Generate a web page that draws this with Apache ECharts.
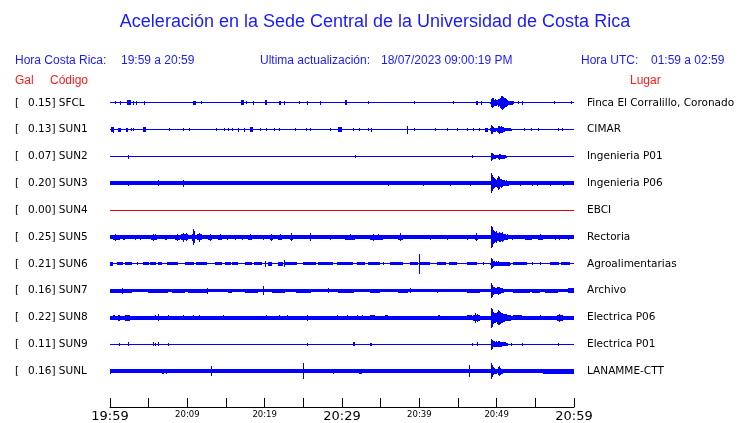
<!DOCTYPE html>
<html><head><meta charset="utf-8">
<script src="https://cdn.jsdelivr.net/npm/echarts@6/dist/echarts.min.js"></script>
<style>html,body{margin:0;padding:0;background:#fff}#c{width:740px;height:423px}</style>
</head><body><div id="c"></div>
<script>
// ---- data (time in minutes after 19:59, amplitudes = half trace width in trace units) ----
const codes  = ['SFCL','SUN1','SUN2','SUN3','SUN4','SUN5','SUN6','SUN7','SUN8','SUN9','SUNL'];
const gal    = ['0.15','0.13','0.07','0.20','0.00','0.25','0.21','0.16','0.22','0.11','0.16'];
const places = ['Finca El Corralillo, Coronado','CIMAR','Ingenieria P01','Ingenieria P06','EBCI','Rectoria','Agroalimentarias','Archivo','Electrica P06','Electrica P01','LANAMME-CTT'];
const noiseHalf = [0.75,0.75,0.5,2.0,0.5,2.0,0.75,1.6,2.0,0.5,2.0];
const tickMinutes = [0,10,20,30,40,50,60];
const tickLabels  = ['19:59','20:09','20:19','20:29','20:39','20:49','20:59'];

// bursts: [start min, end min, half amplitude]
const burstsSFCL = [[0.65,0.65,1.5],[1.29,1.42,2],[2.2,2.72,2.5],[2.97,3.1,2],[3.36,3.49,2],[4.4,4.4,2],[10.73,11.12,2],[11.77,11.77,1.5],[16.94,17.33,2.5],[17.59,17.59,1.5],[18.49,18.49,2],[20.04,20.3,2.5],[21.85,22.1,2],[22.5,22.63,2],[24.44,24.44,1.5],[25.47,25.47,2],[27.16,27.16,2],[30.39,30.65,2.5],[33.36,33.36,1.5],[39.31,39.31,1.5],[44.35,44.35,1.5],[47.33,47.59,2],[47.97,47.97,2],[52.76,52.76,1.5],[53.28,53.41,2],[57.41,57.41,1.5],[59.61,59.61,1.5]];
const burstsSUN1 = [[0.13,0.52,2.5],[0.39,0.45,3.2],[1.03,1.42,2],[2.07,2.33,2],[2.72,2.72,1.5],[2.97,2.97,1.5],[4.27,4.66,2.5],[7.63,7.63,1.5],[9.44,9.56,1.5],[10.22,10.22,1.5],[13.71,13.71,1.5],[14.74,14.74,1.5],[15.26,15.26,1.5],[15.78,15.78,1.5],[16.55,16.55,2],[17.33,17.46,2],[18.1,18.49,2.5],[19.4,19.4,1.5],[20.17,20.17,1.5],[21.21,21.21,1.5],[21.85,21.85,1.5],[23.92,23.92,1.5],[25.34,25.34,1.5],[25.86,25.86,1.5],[28.45,28.45,1.5],[29.48,30.0,2.5],[31.42,31.42,1.5],[32.2,32.2,1.5],[33.36,33.36,1.5],[33.75,33.88,2],[38.41,38.41,4],[39.31,39.31,1.5],[42.03,42.03,1.5],[43.58,43.58,1.5],[44.87,44.87,1.5],[46.16,46.16,1.5],[46.94,46.94,1.5],[47.72,47.72,1.5],[48.49,48.88,2],[53.53,53.53,1.5],[54.44,54.44,1.5],[55.35,55.35,1.5],[57.93,57.93,1.5],[58.45,58.45,1.5]];
const burstsSUN2 = [[2.33,2.33,2],[31.68,31.68,1.5],[46.81,46.81,1.5]];
const burstsSUN3 = [[2.33,2.33,2.5],[6.21,6.21,3],[9.44,9.44,3.3],[36.0,36.0,2.5],[40.5,40.5,2.5],[44.0,44.0,2.5],[46.5,46.5,2.5],[53.02,53.02,2.5],[54.57,54.57,2.5],[55.22,55.22,2.5],[56.9,56.9,2.5],[58.58,58.58,2.5]];
const burstsSUN4 = [];
const burstsSUN5 = [[0.39,1.29,2.5],[0.65,0.65,3.5],[1.68,1.94,2.5],[3.23,3.23,2.5],[3.88,3.88,2.5],[5.3,6.08,2.5],[5.56,5.56,3.5],[5.82,5.82,3],[7.11,7.37,2.5],[8.41,9.05,2.5],[8.66,8.66,3.5],[9.18,10.09,3],[9.44,9.44,4.5],[9.83,9.83,4],[10.6,10.99,3.5],[10.73,10.73,8],[10.86,10.86,6],[11.25,11.9,3],[11.51,11.51,4.5],[12.67,13.19,2.5],[12.93,12.93,3.5],[13.97,14.48,2.5],[14.22,14.22,3],[15.13,15.13,2.5],[16.16,16.16,2.5],[17.07,17.07,2.5],[17.84,18.36,2.5],[18.1,18.1,3],[19.78,19.78,2.5],[20.69,21.08,2.5],[20.82,20.82,3.5],[21.72,22.24,2.5],[21.98,21.98,3],[23.28,23.66,2.5],[23.4,23.4,4],[25.86,25.86,4],[28.45,28.45,2.5],[30.39,31.68,2.5],[31.0,31.0,3],[33.62,35.3,2.5],[34.01,34.01,3.5],[34.7,34.7,3],[37.24,37.89,2.5],[37.5,37.5,4],[41.38,41.38,2.5],[43.58,43.58,2.5],[46.16,46.16,2.5],[47.2,47.59,2.5],[47.33,47.33,4],[52.0,52.0,2.5],[53.66,54.57,2.5],[55.35,55.99,2.5],[55.6,55.6,3],[57.54,57.54,2.5],[58.06,58.06,2.5],[59.22,59.22,2.5]];
const burstsSUN6 = [[0,0.39,1.8],[0.91,1.68,1.5],[1.94,2.84,1.5],[3.49,3.49,1.5],[4.27,5.0,1.5],[5.2,6.0,1.5],[6.2,6.72,1.5],[7.37,8.79,1.5],[9.7,10.9,1.5],[11.1,12.54,1.5],[13.58,14.48,1.5],[14.87,15.6,1.5],[15.8,16.55,1.5],[17.46,18.4,1.5],[18.6,19.66,1.5],[20.04,20.04,3],[20.43,20.95,2],[21.72,22.37,1.8],[22.5,22.5,3.5],[22.6,24.2,1.5],[25.0,26.6,1.5],[26.9,28.8,1.5],[29.4,31.4,1.5],[31.9,33.0,1.5],[33.3,34.9,1.5],[35.3,35.3,1.5],[36.2,37.9,1.5],[38.8,39.8,1.5],[39.96,39.96,10],[40.1,41.4,1.5],[42.3,43.5,1.5],[43.8,44.9,1.5],[46.2,47.5,1.5],[48.2,48.2,1.5],[52.1,53.9,1.5],[54.6,54.6,1.5],[55.6,55.6,1.5],[56.9,58.0,1.5],[58.3,59.5,1.5]];
const burstsSUN7 = [[0,2.84,2],[1.55,1.55,3],[4.91,7.5,2],[8.02,9.7,2],[10.09,12.67,2],[12.54,12.54,3],[15.26,15.78,2],[17.46,19.1,2],[19.78,19.78,4.5],[20.95,22.63,2],[24.0,26.0,2],[28.19,28.19,2.5],[29.5,31.5,2],[33.62,34.9,2],[37.2,38.5,2],[38.8,38.8,2.5],[42.3,42.3,2],[46.2,47.9,2],[52.1,54.3,2],[54.6,55.6,2],[56.2,57.9,2],[59.2,60,2.5]];
const burstsSUN8 = [[0.39,0.65,2.5],[1.03,1.29,3],[1.94,2.59,3],[5.82,5.82,2.5],[6.21,6.21,3.5],[7.5,7.5,2.5],[9.44,9.44,2.5],[10.73,10.73,2.5],[11.51,11.51,2.5],[14.61,14.61,2.5],[20.17,20.17,2.5],[21.85,21.85,2.5],[22.89,22.89,2.5],[25.47,25.6,3],[29.35,29.35,2.5],[30.65,30.65,2.5],[31.94,31.94,2.5],[32.59,32.59,2.5],[33.62,34.27,2.5],[35.56,35.95,2.5],[42.41,42.67,2.5],[46.16,46.81,2.5],[46.94,47.84,3],[47.2,47.33,5],[47.46,47.46,4],[52.1,53.3,2.5],[55.6,55.6,2.5],[57.8,58.58,3],[58.06,58.19,4]];
const burstsSUN9 = [[1.16,1.16,1.5],[2.33,2.33,2],[5.56,5.56,2],[5.82,5.82,1.5],[6.21,6.21,2],[7.5,7.5,1.5],[25.47,25.47,1.5],[31.42,31.68,2],[33.62,33.88,1.5],[46.81,46.81,1.5],[47.46,47.46,2],[51.85,51.85,1.5],[53.28,53.28,1.5],[57.93,57.93,1.5]];
const burstsSUNL = [[0,0,2.5],[6.72,6.72,2.5],[6.85,6.85,2.5],[7.24,7.24,2.5],[13.06,13.06,5],[24.96,24.96,8],[28.84,28.84,2.5],[32.2,32.59,2.5],[46.42,46.42,6],[55.99,60,2.3]];

// earthquake envelope, one value every 0.129 min starting at 49.14 min (20:48:08)
const eventStart = 49.14;
const eventStep  = 0.129;
const eventSFCL = [1,4,5,4.5,3,3.5,3,2.5,4,3.5,5,6.5,7,6,5,4.5,4,3,2,2,2,2,2,1.5];
const eventSUN1 = [1.5,4.5,4,2.5,2,2,1.5,2,3.5,4,3,3.5,3,2.5,2,1.5,1.5,1.5,1.5,1.5,1.5,1];
const eventSUN2 = [0.5,4,3.5,2.5,2,2,1.5,1.5,2,3,2.5,2,2,2,2,1.5,1];
const eventSUN3 = [2,10,8,6,5,4,3.5,5,7,6,4,4.5,3.5,3,3,2.5,3,2.5,2.5,2,2];
const eventSUN4 = [];
const eventSUN5 = [2,11,10,7,6,5,6,4,4,5,4.5,4,5,3.5,3,3,2.5,3,2,2,2];
const eventSUN6 = [1,5.5,4.5,3,2.5,2,2.5,2,2.5,2,2,2,2,2,1.8,1.8,1.8,1.8,1.8,1.8,1];
const eventSUN7 = [1.5,7.5,6,4,3.5,3,3,3.5,4,3.5,3,2.5,2.5,2];
const eventSUN8 = [2,10,9,6,5,5,4.5,6,7.5,7,6,5,5,4,4,3.5,3.5,3,3,3,3];
const eventSUN9 = [0.5,5.5,4.5,3,3,2.5,3,2.5,3,3,2.5,2.5,2,2,2,2,1.5,1.5];
const eventSUNL = [2,8,6,4,3,2.5,2.5,2,4,5,3.5,2.5,2.5,2,2,2];

const burstsByRow = [burstsSFCL,burstsSUN1,burstsSUN2,burstsSUN3,burstsSUN4,burstsSUN5,burstsSUN6,burstsSUN7,burstsSUN8,burstsSUN9,burstsSUNL];
const eventsByRow = [eventSFCL,eventSUN1,eventSUN2,eventSUN3,eventSUN4,eventSUN5,eventSUN6,eventSUN7,eventSUN8,eventSUN9,eventSUNL];

// ---- build ----
const ROW = 27;           // trace spacing in trace units
const TRACE_BLUE = '#0000ff';
const items = [];
codes.forEach((c, i) => {
  items.push([0, 60, i, noiseHalf[i]]);
  burstsByRow[i].forEach(b => items.push([b[0], b[1], i, b[2]]));
  eventsByRow[i].forEach((v, k) => items.push([eventStart + k*eventStep, eventStart + (k+1)*eventStep, i, v]));
});

function renderTrace(params, api) {
  const s = api.value(0), e = api.value(1), row = api.value(2), h = api.value(3);
  const p1 = api.coord([s, row*ROW]);
  const p2 = api.coord([e, row*ROW]);
  const hp = Math.abs(api.size([0, h])[1]);
  const x = Math.round(p1[0]);
  const w = Math.max(1, Math.round(p2[0]) - x);
  const y = Math.round(p1[1] - hp);
  const hh = Math.max(1, Math.round(2*hp));
  return {type:'rect', shape:{x:x, y:y, width:w, height:hh},
    style:{fill: codes[row]==='SUN4' ? '#dd0000' : TRACE_BLUE}};
}

function renderLabels(params, api) {
  const row = api.value(0);
  const pL = api.coord([0, row*ROW]);
  const pR = api.coord([60, row*ROW]);
  const font = '10.5px "DejaVu Sans"';
  return {type:'group', children:[
    {type:'text', x:pL[0]-95, y:pL[1], style:{text:'[', fill:'#000', font:font, align:'left', verticalAlign:'middle'}},
    {type:'text', x:pL[0]-82, y:pL[1], style:{text:gal[row]+'] '+codes[row], fill:'#000', font:font, align:'left', verticalAlign:'middle'}},
    {type:'text', x:pR[0]+13, y:pR[1], style:{text:places[row], fill:'#000', font:font, align:'left', verticalAlign:'middle'}}
  ]};
}

const blue = '#1a1aff', red = '#ff1a1a';
const hf = '12px "Liberation Sans"';
function txt(x, y, t, color, font, align) {
  return {type:'text', x:x, y:y, style:{text:t, fill:color, font:font, align:align||'left', verticalAlign:'middle'}};
}

const chart = echarts.init(document.getElementById('c'));
chart.setOption({
  animation:false,
  backgroundColor:'#fff',
  grid:{left:110, right:166, top:89, bottom:14},
  xAxis:{type:'value', min:0, max:60, interval:5, position:'bottom',
    axisLine:{show:true, onZero:false, lineStyle:{color:'#000', width:1}},
    axisTick:{show:true, inside:true, length:9, lineStyle:{color:'#000'}},
    splitLine:{show:false},
    axisLabel:{show:true, margin:3, verticalAlign:'top',
      formatter:v => { const k = tickMinutes.indexOf(v); if (k<0) return '';
        return (v%30===0 ? '{big|' : '{small|') + tickLabels[k] + '}'; },
      rich:{big:{fontSize:13, fontFamily:'DejaVu Sans', color:'#000', lineHeight:13},
            small:{fontSize:8.5, fontFamily:'DejaVu Sans', color:'#000', lineHeight:10}}}
  },
  yAxis:{type:'value', min:-14, max:306, inverse:true, show:false},
  series:[
    {type:'custom', renderItem:renderTrace, data:items, clip:false, silent:true},
    {type:'custom', renderItem:renderLabels, data:codes.map((c,i)=>[i]), silent:true}
  ],
  graphic:[
    txt(375, 22, 'Aceleración en la Sede Central de la Universidad de Costa Rica', blue, '18px "Liberation Sans"', 'center'),
    txt(15, 61, 'Hora Costa Rica:', blue, hf),
    txt(121, 61, '19:59 a 20:59', blue, hf),
    txt(260, 61, 'Ultima actualización:', blue, hf),
    txt(381, 61, '18/07/2023 09:00:19 PM', blue, hf),
    txt(581, 61, 'Hora UTC:', blue, hf),
    txt(651, 61, '01:59 a 02:59', blue, hf),
    txt(15, 81, 'Gal', red, hf),
    txt(50, 81, 'Código', red, hf),
    txt(630, 81, 'Lugar', red, hf)
  ]
});
</script></body></html>
